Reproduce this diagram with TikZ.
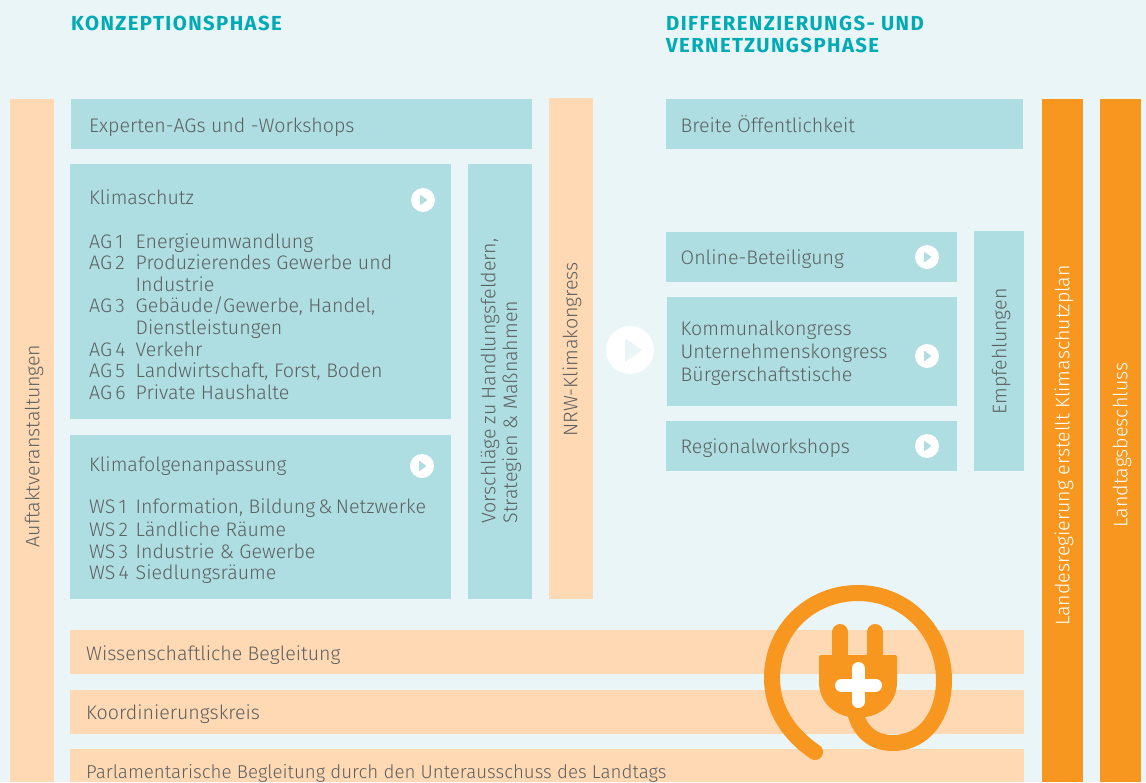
\documentclass[tikz,border=0pt]{standalone}
\usepackage{fontspec}
\setmainfont{Fira Sans Light}[BoldFont=Fira Sans Bold]
\newfontfamily\headfont{Fira Sans Bold}[LetterSpace=7]
\usepackage{tikz}
\definecolor{paleback}{HTML}{E9F5F6}
\definecolor{tealbox}{HTML}{AEDEE2}
\definecolor{peachbox}{HTML}{FFD9B3}
\definecolor{plugorange}{HTML}{F8971F}
\definecolor{headteal}{HTML}{00ABB5}
\definecolor{bodygrey}{HTML}{5C6061}
\tikzset{panel/.style={rectangle,anchor=north west,inner sep=0pt,outer sep=0pt}}
\tikzset{boxtext/.style={anchor=base west,inner sep=0pt,text=bodygrey,font=\fontsize{19.6}{21.7}\selectfont}}
\tikzset{sidetext/.style={rotate=90,inner sep=0pt,align=left,text=bodygrey,font=\fontsize{19.6}{21.7}\selectfont}}
\tikzset{headtext/.style={anchor=base west,inner sep=0pt,text=headteal,font=\fontsize{20.3}{22}\headfont}}
\tikzset{playdot/.style={circle,fill=white,inner sep=0pt,minimum size=24pt}}
\begin{document}
\begin{tikzpicture}[x=1pt,y=-1pt]
  % page
  \fill[paleback] (0,0) rectangle (1146,782);
  \useasboundingbox (0,0) rectangle (1146,782);

  % all the boxes
\foreach \name/\col/\x/\y/\w/\h in {
    experten/tealbox/71/99/461/50, klimaschutz/tealbox/70/164/381/255,
    folgen/tealbox/70/435/381/164, vorschlag/tealbox/468/164/64/435,
    breite/tealbox/666/99/357/50, online/tealbox/666/232/291/50,
    kommunal/tealbox/667/297/290/109, regional/tealbox/666/421/291/50,
    empfehlung/tealbox/974/231/50/240, auftakt/peachbox/10/99/44/683,
    nrw/peachbox/549/98/44/501, wissen/peachbox/70/630/954/44,
    koord/peachbox/70/690/954/44, parlament/peachbox/70/749/954/33,
    landesreg/plugorange/1042/99/41/683, landtag/plugorange/1100/99/41/683}
  {
    \node[panel,fill=\col,minimum width=\w pt,minimum height=\h pt] (\name) at (\x,\y) {};
  }

  % headings
  \node[headtext] (konzept) at (71,30) {KONZEPTIONSPHASE};
  \node[headtext] (diffa) at (666,30) {DIFFERENZIERUNGS- UND};
  \node[headtext] (diffb) at (666,52) {VERNETZUNGSPHASE};

  % single lines
\foreach \name/\x/\y/\txt in {
    tExperten/89/132/Experten-AGs und -Workshops, tBreite/680.5/132/Breite Öffentlichkeit,
    tOnline/680.5/264/Online-Beteiligung, tRegional/680.5/453/Regionalworkshops,
    tKlima/89/204/Klimaschutz, tFolgen/89/471/Klimafolgenanpassung,
    tKom/680.5/335/Kommunalkongress, tUnt/680.5/358/Unternehmenskongress,
    tBue/680.5/381/Bürgerschaftstische,
    tWissen/86/660/Wissenschaftliche Begleitung, tKoord/86/719/Koordinierungskreis}
  {
    \node[boxtext] (\name) at (\x,\y) {\txt};
  }
  \node[boxtext,font=\fontsize{18.7}{21.7}\selectfont] (tParl) at (86,778) {Parlamentarische Begleitung durch den Unterausschuss des Landtags};

  % working groups
\foreach \name/\y/\tag/\txt in {
    1/248/AG\,1/Energieumwandlung, 2/269/AG\,2/Produzierendes Gewerbe und,
    3/291//Industrie, 4/312/AG\,3/{Gebäude/Gewerbe, Handel,},
    5/334//Dienstleistungen, 6/356/AG\,4/Verkehr,
    7/377/AG\,5/{Landwirtschaft, Forst, Boden}, 8/399/AG\,6/Private Haushalte,
    9/513/WS\,1/{Information, Bildung\,\&\,Netzwerke}, 10/536/WS\,2/Ländliche Räume,
    11/558/WS\,3/Industrie \& Gewerbe, 12/579/WS\,4/Siedlungsräume}
  {
    \node[boxtext] (tag\name) at (89,\y) {\tag};
    \node[boxtext] (item\name) at (135.5,\y) {\txt};
  }

  % upright labels
  \node[sidetext] (tAuftakt) at (34,446) {Auftaktveranstaltungen};
  \node[sidetext] (tVorschlag) at (501,381) {Vorschläge zu Handlungsfeldern,\\Strategien \& Maßnahmen};
  \node[sidetext] (tNrw) at (572,349.5) {NRW-Klimakongress};
  \node[sidetext] (tEmpf) at (1001,351.5) {Empfehlungen};
  \node[sidetext,text=white] (tLandes) at (1064,445.5) {Landesregierung erstellt Klimaschutzplan};
  \node[sidetext,text=white] (tLandtag) at (1122,445) {Landtagsbeschluss};

  % play buttons
\foreach \name/\x/\y in {a/423/200, b/422/466, c/927/257, d/927/356, e/927/446}
  {
    \node[playdot] (play\name) at (\x,\y) {};
    \fill[tealbox,rounded corners=0.8pt] (\x-3,\y-5.5) -- (\x+4.5,\y) -- (\x-3,\y+5.5) -- cycle;
  }
  \node[playdot,minimum size=48pt] (playbig) at (630,350) {};
  \fill[paleback,rounded corners=1pt] (625,338) -- (642,350) -- (625,362) -- cycle;

  % plug
  \draw[plugorange,line width=16pt,line cap=round] (815,752)
    .. controls (790,735) and (772,710) .. (772,678)
    .. controls (772,630) and (810,593) .. (858,593)
    .. controls (906,593) and (944,632) .. (944,680)
    .. controls (944,715) and (925,743) .. (893,743)
    .. controls (873,743) and (860,732) .. (855,712);
  \draw[plugorange,line width=16pt,line cap=round] (840.3,632) -- (840.3,660);
  \draw[plugorange,line width=16pt,line cap=round] (875.3,632) -- (875.3,660);
  \fill[plugorange,rounded corners=2pt] (819,655) -- (897,655) -- (897,680)
    .. controls (897,700) and (885,713) .. (866,717) -- (850,717)
    .. controls (831,713) and (819,700) .. (819,680) -- cycle;
  \draw[white,line width=13pt,line cap=round] (858.3,668.5) -- (858.3,701.5);
  \draw[white,line width=13pt,line cap=round] (841.5,685.3) -- (875.5,685.3);
\end{tikzpicture}
\end{document}
